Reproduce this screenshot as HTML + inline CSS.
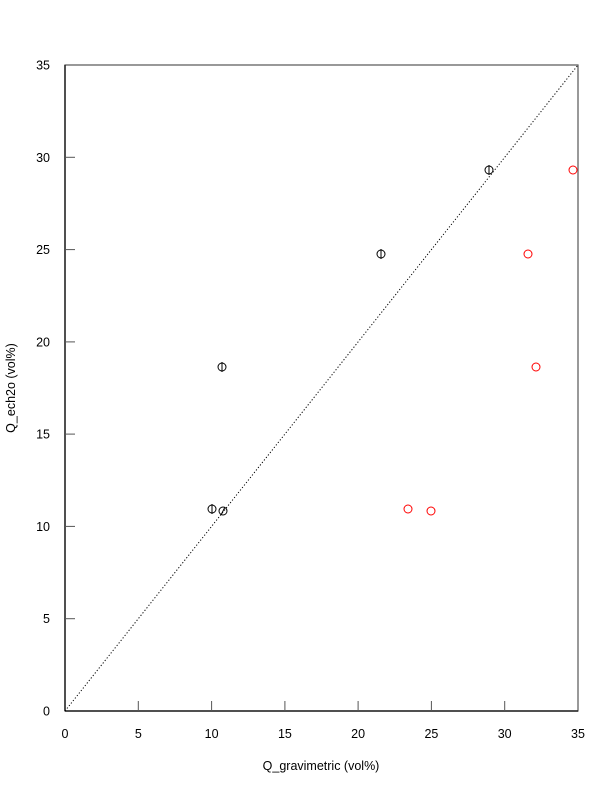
<!DOCTYPE html>
<html><head><style>body{margin:0;background:#fff}svg{display:block}</style></head><body>
<svg width="612" height="792" xmlns="http://www.w3.org/2000/svg" font-family="Liberation Sans, sans-serif" font-size="12.5">
<rect x="65" y="65" width="513" height="646" fill="none" stroke="#555" stroke-width="1.2"/>
<line x1="65" y1="65" x2="65" y2="711" stroke="#222" stroke-width="1.5"/>
<line x1="65" y1="711" x2="578" y2="711" stroke="#222" stroke-width="1.5"/>
<line x1="65" y1="711" x2="578" y2="65" stroke="#000" stroke-width="1" stroke-dasharray="1.2,2"/>
<g stroke="#555" stroke-width="1">
<line x1="138.3" y1="711" x2="138.3" y2="701"/><line x1="211.6" y1="711" x2="211.6" y2="701"/><line x1="284.9" y1="711" x2="284.9" y2="701"/><line x1="358.1" y1="711" x2="358.1" y2="701"/><line x1="431.4" y1="711" x2="431.4" y2="701"/><line x1="504.7" y1="711" x2="504.7" y2="701"/>
<line x1="65" y1="618.7" x2="75" y2="618.7"/><line x1="65" y1="526.4" x2="75" y2="526.4"/><line x1="65" y1="434.1" x2="75" y2="434.1"/><line x1="65" y1="341.9" x2="75" y2="341.9"/><line x1="65" y1="249.6" x2="75" y2="249.6"/><line x1="65" y1="157.3" x2="75" y2="157.3"/>
</g>
<g text-anchor="middle">
<text x="65" y="738">0</text><text x="138.3" y="738">5</text><text x="211.6" y="738">10</text><text x="284.9" y="738">15</text><text x="358.1" y="738">20</text><text x="431.4" y="738">25</text><text x="504.7" y="738">30</text><text x="578" y="738">35</text>
</g>
<g text-anchor="end">
<text x="50" y="715.5">0</text><text x="50" y="623">5</text><text x="50" y="531">10</text><text x="50" y="438.5">15</text><text x="50" y="346.5">20</text><text x="50" y="254">25</text><text x="50" y="162">30</text><text x="50" y="69.5">35</text>
</g>
<text x="321" y="770" text-anchor="middle">Q_gravimetric (vol%)</text>
<text transform="translate(15,388) rotate(-90)" text-anchor="middle">Q_ech2o (vol%)</text>
<g fill="none" stroke="#000" stroke-width="1">
<circle cx="212" cy="509" r="4"/><line x1="212" y1="504" x2="212" y2="514"/>
<circle cx="223" cy="511" r="4"/><line x1="221" y1="515" x2="225" y2="507"/>
<circle cx="222" cy="367" r="4"/><line x1="222" y1="362" x2="222" y2="372"/>
<circle cx="381" cy="254" r="4"/><line x1="381" y1="249" x2="381" y2="259"/>
<circle cx="489" cy="170" r="4"/><line x1="489" y1="165" x2="489" y2="175"/>
</g>
<g fill="none" stroke="#f00" stroke-width="1">
<circle cx="408" cy="509" r="4"/><circle cx="431" cy="511" r="4"/><circle cx="536" cy="367" r="4"/><circle cx="528" cy="254" r="4"/><circle cx="573" cy="170" r="4"/>
</g>
</svg>
</body></html>
